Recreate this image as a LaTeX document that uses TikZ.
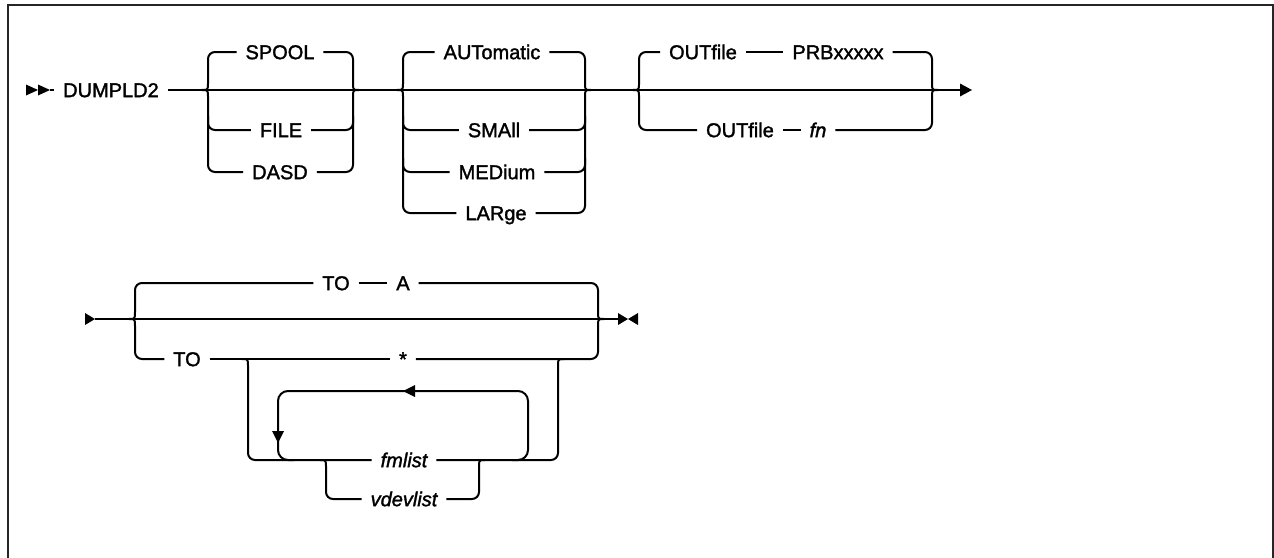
\documentclass[tikz,border=0pt]{standalone}
\usepackage{fontspec}
\setmainfont{Liberation Sans}[FakeBold=1.6]
\newcommand\bUL[4]{\draw (#1-6,#2) .. controls (#1,#2) .. (#1,#2-7) [rc] -- (#1,#3) -- (#4.west);}
\newcommand\bDL[4]{\draw (#1-6,#2) .. controls (#1,#2) .. (#1,#2+7) [rc] -- (#1,#3) -- (#4.west);}
\newcommand\bML[3]{\draw[rc] (#1,#2-14) -- (#1,#2) -- (#3.west);}
\newcommand\bUR[4]{\draw (#1+6,#2) .. controls (#1,#2) .. (#1,#2-7) [rc] -- (#1,#3) -- (#4.east);}
\newcommand\bDR[4]{\draw (#1+6,#2) .. controls (#1,#2) .. (#1,#2+7) [rc] -- (#1,#3) -- (#4.east);}
\newcommand\bMR[3]{\draw[rc] (#1,#2-14) -- (#1,#2) -- (#3.east);}
\tikzset{
  lbl/.style={font=\fontsize{20}{22}\selectfont, inner xsep=8pt, inner ysep=0pt,
              text height=14.3pt, text depth=0pt, anchor=center},
  itl/.style={lbl, font=\fontsize{20}{22}\selectfont\itshape},
  rc/.style={rounded corners=7pt},
  loopc/.style={rounded corners=10pt},
  frame/.style={line width=1.6pt, draw=black!85},
}
\begin{document}
\begin{tikzpicture}[x=1pt,y=-1pt,line width=2pt]
\useasboundingbox (0,0) rectangle (1274,557);
\draw[frame] (8,570) -- (8,5) -- (1273,5) -- (1273,570);

% ---------- row 1 ----------
\node[lbl] (dump)   at (111,90)  {DUMPLD2};
\node[lbl] (spool)  at (280,52)  {SPOOL};
\node[lbl] (file)   at (281,130) {FILE};
\node[lbl] (dasd)   at (280,172) {DASD};
\node[lbl] (auto)   at (492,52)  {AUTomatic};
\node[lbl] (small)  at (494,130) {SMAll};
\node[lbl] (medium) at (497,172) {MEDium};
\node[lbl] (large)  at (496,213) {LARge};
\node[lbl] (out1)   at (703,52)  {OUTfile};
\node[lbl] (prb)    at (838,52)  {PRBxxxxx};
\node[lbl] (out2)   at (740,130) {OUTfile};
\node[itl] (fn)     at (818,130) {fn};

\coordinate (s1) at (50,90);
\coordinate (e1) at (960,90);
\fill (26,84.5) -- (38,90) -- (26,95.5) -- cycle;
\fill (38,84.5) -- (50,90) -- (38,95.5) -- cycle;
\draw (s1) -- (dump.west);
\draw (dump.east) -- (e1);
\fill (960,83.5) -- (972,90) -- (960,96.5) -- cycle;

% group 1
\bUL{208}{90}{52}{spool}  \bUR{353}{90}{52}{spool}
\bML{208}{130}{file}      \bMR{353}{130}{file}
\bDL{208}{90}{172}{dasd}  \bDR{353}{90}{172}{dasd}
% group 2
\bUL{403}{90}{52}{auto}   \bUR{585}{90}{52}{auto}
\bML{403}{130}{small}     \bMR{585}{130}{small}
\bML{403}{172}{medium}    \bMR{585}{172}{medium}
\bDL{403}{90}{213}{large} \bDR{585}{90}{213}{large}
% group 3
\bUL{639}{90}{52}{out1}   \bUR{932}{90}{52}{prb}
\draw (out1) -- (prb);
\bDL{639}{90}{130}{out2}  \bDR{932}{90}{130}{fn}
\draw (out2) -- (fn);

% ---------- row 2 ----------
\node[lbl] (toA)  at (336,283) {TO};
\node[lbl] (a)    at (403,283) {A};
\node[lbl] (toB)  at (187,359) {TO};
\node[lbl] (star) at (403,359) {*};
\node[itl] (fml)  at (404,460) {fmlist};
\node[itl] (vdev) at (404,499) {vdevlist};

\coordinate (s2) at (95,319);
\coordinate (e2) at (618,319);
\fill (85,313) -- (95,319) -- (85,325) -- cycle;
\draw (s2) -- (e2);
\fill (618,313) -- (628,319) -- (618,325) -- cycle;
\fill (638,313) -- (628,319) -- (638,325) -- cycle;

\bUL{135}{319}{283}{toA}  \bUR{598}{319}{283}{a}
\draw (toA) -- (a);
\bDL{135}{319}{359}{toB}  \bDR{598}{319}{359}{star}
\draw (toB) -- (star);

% inner group
\bDL{248}{359}{460}{fml}  \bDR{558}{359}{460}{fml}
\bDL{326}{460}{499}{vdev} \bDR{479}{460}{499}{vdev}

% repeat loop
\draw[loopc] (512,460) -- (528,460) -- (528,391) -- (278,391) -- (278,460) -- (294,460);
\fill (403,391) -- (415,385) -- (415,397) -- cycle;
\fill (278,443) -- (272,431) -- (284,431) -- cycle;
\end{tikzpicture}
\end{document}
